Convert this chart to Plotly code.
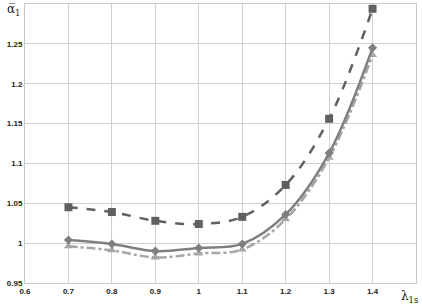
import plotly.graph_objects as go

x_vals = [0.7, 0.8, 0.9, 1.0, 1.1, 1.2, 1.3, 1.4]
series_square = [1.045, 1.039, 1.028, 1.024, 1.033, 1.073, 1.156, 1.294]
series_diamond = [1.004, 0.999, 0.990, 0.994, 0.999, 1.036, 1.113, 1.245]
series_triangle = [0.996, 0.991, 0.982, 0.987, 0.992, 1.030, 1.107, 1.236]
x_ticks = [0.6, 0.7, 0.8, 0.9, 1.0, 1.1, 1.2, 1.3, 1.4]
x_tick_labels = ["0.6", "0.7", "0.8", "0.9", "1", "1.1", "1.2", "1.3", "1.4"]
y_ticks = [0.95, 1.0, 1.05, 1.1, 1.15, 1.2, 1.25]
y_tick_labels = ["0.95", "1", "1.05", "1.1", "1.15", "1.2", "1.25"]

fig = go.Figure()
fig.add_trace(go.Scatter(x=x_vals, y=series_triangle, mode="lines+markers",
    line=dict(color="#a6a6a6", width=2.5, dash="dashdot", shape="spline"),
    marker=dict(symbol="triangle-up", size=8, color="#a6a6a6")))
fig.add_trace(go.Scatter(x=x_vals, y=series_diamond, mode="lines+markers",
    line=dict(color="#7f7f7f", width=2.5, shape="spline"),
    marker=dict(symbol="diamond", size=7, color="#7f7f7f")))
fig.add_trace(go.Scatter(x=x_vals, y=series_square, mode="lines+markers",
    line=dict(color="#606060", width=2.5, dash="dash", shape="spline"),
    marker=dict(symbol="square", size=8, color="#606060")))

tick_font = dict(family="Liberation Sans, Arial", size=8, color="#222", weight="bold")

fig.update_layout(
    width=422, height=307,
    margin=dict(l=25, r=6, t=4, b=24),
    plot_bgcolor="white", paper_bgcolor="white",
    showlegend=False,
    font=dict(family="Liberation Sans, Arial", size=8, color="#222"),
    xaxis=dict(range=[0.6, 1.5], tickvals=x_ticks, ticktext=x_tick_labels,
               showgrid=True, gridcolor="#d0d0d0", gridwidth=1,
               showline=True, linecolor="#c8c8c8", linewidth=1, mirror=True,
               zeroline=False, ticks="", tickfont=tick_font),
    yaxis=dict(range=[0.95, 1.30], tickvals=y_ticks, ticktext=y_tick_labels,
               showgrid=True, gridcolor="#d0d0d0", gridwidth=1,
               showline=True, linecolor="#c8c8c8", linewidth=1, mirror=True,
               zeroline=False, ticks="", tickfont=tick_font),
    annotations=[
        dict(text="α̅<sub>1</sub>", x=0, y=1, xref="paper", yref="paper",
             xanchor="right", yanchor="top", xshift=-3, yshift=4, showarrow=False,
             font=dict(family="DejaVu Serif", size=12, color="#222")),
        dict(text="λ<sub>1s</sub>", x=1, y=0, xref="paper", yref="paper",
             xanchor="right", yanchor="top", xshift=4, yshift=-4, showarrow=False,
             font=dict(family="DejaVu Serif", size=12, color="#222")),
    ],
)
fig.write_html("out.html", config={"displayModeBar": False},
               post_script="document.body.style.margin='0';document.body.style.overflow='hidden';")
